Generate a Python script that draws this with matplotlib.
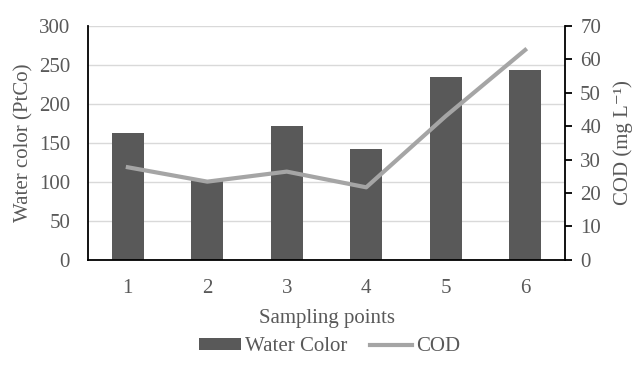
import matplotlib.pyplot as plt
import numpy as np

points = ['1', '2', '3', '4', '5', '6']
water_color = [163, 103, 171, 142, 234, 244]
cod = [27.7, 23.4, 26.4, 21.7, 43, 62.8]

plt.rcParams['font.family'] = ['Liberation Serif', 'DejaVu Serif']
plt.rcParams['font.size'] = 15
txt = '#595959'

fig = plt.figure(figsize=(6.34, 3.81), dpi=100)
ax = fig.add_axes([0.139, 0.318, 0.752, 0.614])
x = np.arange(len(points))

b = ax.bar(x, water_color, width=0.4, color='#595959', label='Water Color', zorder=2)
ax.set_ylim(0, 300)
ax.set_xlim(-0.5, 5.5)
ax.set_yticks(range(0, 301, 50))
ax.set_xticks(x)
ax.set_xticklabels(points)
ax.grid(axis='y', color='#D9D9D9', linewidth=1, zorder=0)
ax.set_axisbelow(True)
ax.tick_params(axis='y', length=0, colors=txt, pad=13)
ax.tick_params(axis='x', length=0, colors=txt, pad=14)
ax.set_ylabel('Water color (PtCo)', color=txt, labelpad=4)
ax.set_xlabel('Sampling points', color=txt, labelpad=8)
for s in ['top', 'right']:
    ax.spines[s].set_visible(False)
ax.spines['left'].set_color('black')
ax.spines['bottom'].set_color('black')
ax.spines['left'].set_linewidth(1.3)
ax.spines['bottom'].set_linewidth(1.3)

ax2 = ax.twinx()
l, = ax2.plot(x, cod, color='#A5A5A5', linewidth=3, label='COD', zorder=3)
ax2.set_ylim(0, 70)
ax2.set_yticks(range(0, 71, 10))
ax2.tick_params(axis='y', length=5, width=1.3, colors=txt, pad=6)
ax2.tick_params(axis='y', color='black')
ax2.set_ylabel('COD (mg L⁻¹)', color=txt, labelpad=9)
for s in ['top', 'left', 'bottom']:
    ax2.spines[s].set_visible(False)
ax2.spines['right'].set_linewidth(1.3)

fig.legend([b, l], ['Water Color', 'COD'], loc='center', bbox_to_anchor=(0.52, 0.09),
           ncol=2, frameon=False, handlelength=2.0, handleheight=0.5,
           handletextpad=0.2, columnspacing=1.1, labelcolor=txt)

plt.savefig('out.png', dpi=100)
